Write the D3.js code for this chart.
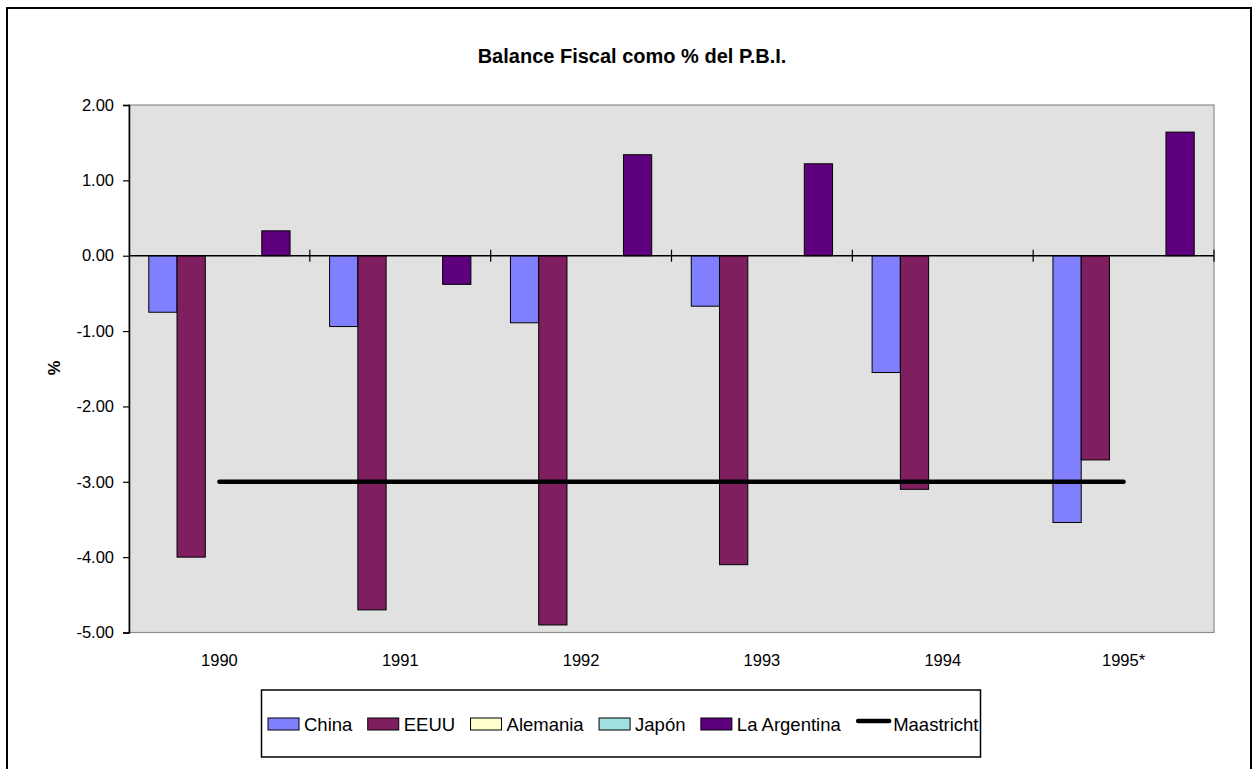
<!DOCTYPE html>
<html>
<head>
<meta charset="utf-8">
<script src="https://cdn.jsdelivr.net/npm/d3@7"></script>
<style>
  html, body { margin: 0; padding: 0; background: #ffffff; }
  svg { display: block; font-family: "Liberation Sans", Arial, sans-serif; }
</style>
</head>
<body>
<svg id="chart" width="1257" height="769"></svg>
<script>
const categories = ["1990", "1991", "1992", "1993", "1994", "1995*"];
const seriesNames = ["China", "EEUU", "Alemania", "Japón", "La Argentina"];
const china      = [-0.75, -0.94, -0.89, -0.67, -1.55, -3.54];
const eeuu       = [-4.00, -4.70, -4.90, -4.10, -3.10, -2.71];
const alemania   = [null, null, null, null, null, null];
const japon      = [null, null, null, null, null, null];
const argentina  = [0.33, -0.38, 1.34, 1.22, null, 1.64];
const maastricht = [-3, -3, -3, -3, -3, -3];
const yTicks = [2, 1, 0, -1, -2, -3, -4, -5];
const titleText = "Balance Fiscal como % del P.B.I.";
const yLabel = "%";
const lineName = "Maastricht";

const seriesValues = [china, eeuu, alemania, japon, argentina];
const colors = ["#8080FF", "#7F1F5F", "#FFFFCC", "#A0E0E0", "#5F007F"];

const svg = d3.select("#chart");
const pLeft = 129, pRight = 1214, pTop = 105, pBottom = 632.5;

// outer frame
svg.append("rect").attr("x", 7).attr("y", 8).attr("width", 1244).attr("height", 790)
  .attr("fill", "#fff").attr("stroke", "#000").attr("stroke-width", 2);

// plot background
svg.append("rect").attr("x", pLeft).attr("y", pTop).attr("width", pRight - pLeft).attr("height", pBottom - pTop)
  .attr("fill", "#E1E1E1").attr("stroke", "#8C8C8C").attr("stroke-width", 1.2);

const x = d3.scaleBand().domain(categories).range([pLeft, pRight]).paddingInner(0).paddingOuter(0);
const xs = d3.scaleBand().domain(seriesNames).range([0, x.bandwidth()]).paddingInner(0).paddingOuter(0.7);
const y = d3.scaleLinear().domain([-5, 2]).range([pBottom, pTop]);

// bars
seriesNames.forEach((name, si) => {
  const data = categories.map((c, i) => ({c, v: seriesValues[si][i]})).filter(d => d.v !== null);
  svg.append("g").selectAll("rect").data(data).join("rect")
    .attr("x", d => x(d.c) + xs(name))
    .attr("width", xs.bandwidth())
    .attr("y", d => y(Math.max(0, d.v)))
    .attr("height", d => Math.abs(y(d.v) - y(0)))
    .attr("fill", colors[si])
    .attr("stroke", "#000").attr("stroke-width", 1);
});

// y axis
const yAxis = d3.axisLeft(y).tickValues(yTicks).tickFormat(d => d.toFixed(2)).tickSize(6).tickPadding(9);
const gy = svg.append("g").attr("transform", `translate(${pLeft},0)`).call(yAxis);
gy.select(".domain").attr("stroke", "#000").attr("stroke-width", 1.5);
gy.selectAll(".tick line").attr("stroke", "#000").attr("stroke-width", 1.2);
gy.selectAll(".tick text").attr("font-size", 16.5).attr("fill", "#000").attr("font-family", "Liberation Sans, Arial, sans-serif");

// x axis at zero
const boundaries = categories.map(c => x(c)).concat([x(categories[categories.length - 1]) + x.bandwidth()]);
svg.append("line").attr("x1", pLeft).attr("x2", pRight).attr("y1", y(0)).attr("y2", y(0))
  .attr("stroke", "#000").attr("stroke-width", 1.5);
svg.append("g").selectAll("line").data(boundaries.slice(1)).join("line")
  .attr("x1", d => d).attr("x2", d => d).attr("y1", y(0) - 6).attr("y2", y(0) + 6)
  .attr("stroke", "#000").attr("stroke-width", 1.2);

// category labels
svg.append("g").selectAll("text").data(categories).join("text")
  .attr("x", d => x(d) + x.bandwidth() / 2).attr("y", pBottom + 33.5)
  .attr("text-anchor", "middle").attr("font-size", 16.5).attr("fill", "#000").text(d => d);

// Maastricht line
const line = d3.line().x((d, i) => x(categories[i]) + x.bandwidth() / 2).y(d => y(d));
svg.append("path").datum(maastricht).attr("d", line)
  .attr("fill", "none").attr("stroke", "#000").attr("stroke-width", 4.5).attr("stroke-linecap", "round");

// title
svg.append("text").attr("x", 632).attr("y", 63).attr("text-anchor", "middle")
  .attr("font-size", 20).attr("font-weight", "bold").text(titleText);

// y label
svg.append("text").attr("transform", "translate(60,368) rotate(-90)").attr("text-anchor", "middle")
  .attr("font-size", 16.5).attr("font-weight", "bold").text(yLabel);

// legend
const boxX = 261.5, boxW = 719;
svg.append("rect").attr("x", boxX).attr("y", 690).attr("width", boxW).attr("height", 67)
  .attr("fill", "#fff").attr("stroke", "#000").attr("stroke-width", 1.5);
const legendItems = seriesNames.map((n, i) => ({name: n, type: "bar", color: colors[i]}))
  .concat([{name: lineName, type: "line", color: "#000"}]);
const lg = svg.append("g").selectAll("g").data(legendItems).join("g");
lg.filter(d => d.type === "bar").append("rect")
  .attr("x", 0).attr("y", -6).attr("width", 31).attr("height", 12)
  .attr("fill", d => d.color).attr("stroke", "#000").attr("stroke-width", 1);
lg.filter(d => d.type === "line").append("line")
  .attr("x1", 2).attr("x2", 33).attr("y1", -3).attr("y2", -3)
  .attr("stroke", "#000").attr("stroke-width", 4.5).attr("stroke-linecap", "round");
lg.append("text").attr("x", d => d.type === "line" ? 37 : 36).attr("y", 7).attr("font-size", 18.5).attr("fill", "#000").text(d => d.name);
// layout items: start at 268, end near right of box
const widths = [];
lg.each(function(d) { widths.push((d.type === "line" ? 37 : 36) + d3.select(this).select("text").node().getComputedTextLength()); });
const startX = 268, endX = boxX + boxW - 2;
const total = d3.sum(widths);
const spacing = (endX - startX - total) / (widths.length - 1);
let cx = startX;
const pos = widths.map(w => { const p = cx; cx += w + spacing; return p; });
lg.attr("transform", (d, i) => `translate(${pos[i]},724)`);
</script>
</body>
</html>
